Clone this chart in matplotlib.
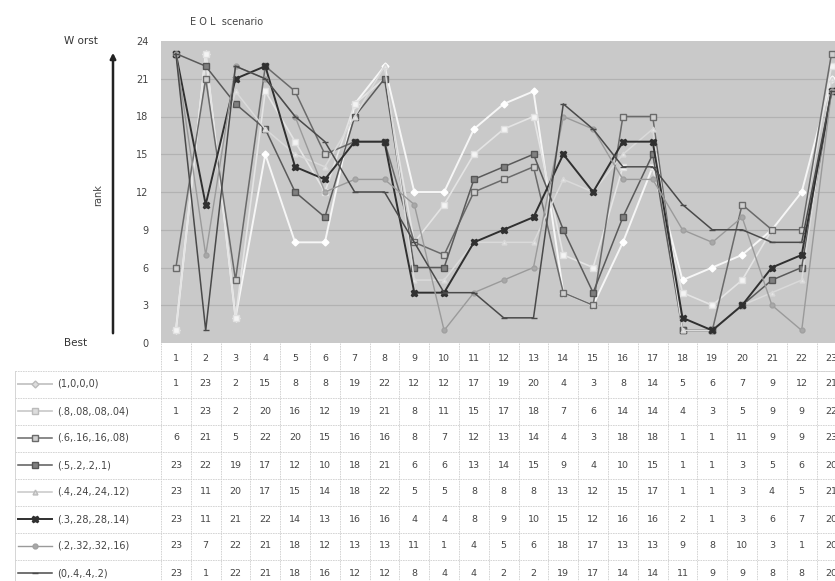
import matplotlib
matplotlib.use("Agg")
import matplotlib.pyplot as plt
import matplotlib.transforms as mtransforms
from matplotlib.lines import Line2D

plt.rcParams['font.family'] = ['Liberation Sans Narrow', 'DejaVu Sans']

alternatives = list(range(1, 24))
labels = ["(1,0,0,0)", "(.8,.08,.08,.04)", "(.6,.16,.16,.08)", "(.5,.2,.2,.1)",
          "(.4,.24,.24,.12)", "(.3,.28,.28,.14)", "(.2,.32,.32,.16)", "(0,.4,.4,.2)"]

s1 = [1, 23, 2, 15, 8, 8, 19, 22, 12, 12, 17, 19, 20, 4, 3, 8, 14, 5, 6, 7, 9, 12, 21]
s2 = [1, 23, 2, 20, 16, 12, 19, 21, 8, 11, 15, 17, 18, 7, 6, 14, 14, 4, 3, 5, 9, 9, 22]
s3 = [6, 21, 5, 22, 20, 15, 16, 16, 8, 7, 12, 13, 14, 4, 3, 18, 18, 1, 1, 11, 9, 9, 23]
s4 = [23, 22, 19, 17, 12, 10, 18, 21, 6, 6, 13, 14, 15, 9, 4, 10, 15, 1, 1, 3, 5, 6, 20]
s5 = [23, 11, 20, 17, 15, 14, 18, 22, 5, 5, 8, 8, 8, 13, 12, 15, 17, 1, 1, 3, 4, 5, 21]
s6 = [23, 11, 21, 22, 14, 13, 16, 16, 4, 4, 8, 9, 10, 15, 12, 16, 16, 2, 1, 3, 6, 7, 20]
s7 = [23, 7, 22, 21, 18, 12, 13, 13, 11, 1, 4, 5, 6, 18, 17, 13, 13, 9, 8, 10, 3, 1, 20]
s8 = [23, 1, 22, 21, 18, 16, 12, 12, 8, 4, 4, 2, 2, 19, 17, 14, 14, 11, 9, 9, 8, 8, 20]
series = [s1, s2, s3, s4, s5, s6, s7, s8]

yticks = [0, 3, 6, 9, 12, 15, 18, 21, 24]

styles = [
    dict(color="#f6f6f6", lw=1.4, marker="D", ms=3.5, mfc="#ffffff", mec="#ffffff"),
    dict(color="#e4e4e4", lw=1.2, marker="s", ms=4, mfc="#f4f4f4", mec="#e0e0e0"),
    dict(color="#6a6a6a", lw=1.1, marker="s", ms=4, mfc="#d0d0d0", mec="#6a6a6a"),
    dict(color="#5a5a5a", lw=1.1, marker="s", ms=4, mfc="#808080", mec="#555555"),
    dict(color="#dadada", lw=1.1, marker="^", ms=3.5, mfc="#e6e6e6", mec="#d8d8d8"),
    dict(color="#303030", lw=1.4, marker="X", ms=5, mfc="#303030", mec="#303030"),
    dict(color="#9a9a9a", lw=1.0, marker="o", ms=3.5, mfc="#a8a8a8", mec="#a0a0a0"),
    dict(color="#4a4a4a", lw=1.1, marker="_", ms=4, mfc="#4a4a4a", mec="#4a4a4a"),
]

W, H = 835, 581
fig = plt.figure(figsize=(W / 100, H / 100), dpi=100)

def fx(px):
    return px / W

def fy(py):
    return 1 - py / H

L, R, T, B = 161, 161 + 23 * 29.8, 41, 343
ax = fig.add_axes([fx(L), fy(B), (R - L) / W, (B - T) / H])
ax.set_facecolor("#c9c9c9")
ax.set_xlim(0.5, 23.5)
ax.set_ylim(0, 24)
for y in yticks[1:-1]:
    ax.axhline(y, color="#b2b2b2", lw=0.9, zorder=0)
for s, st in zip(series, styles):
    ax.plot(alternatives, s, zorder=3, clip_on=False, **st)
ax.set_xticks([])
ax.set_yticks(yticks)
ax.set_yticklabels([str(v) for v in yticks], fontsize=7, color="#444444")
ax.tick_params(axis="y", length=0, pad=9)
for sp in ax.spines.values():
    sp.set_visible(False)

# Titles and axis annotations
fig.text(fx(190), fy(22), "E O L  scenario", fontsize=7, color="#444444", va="center", ha="left")
fig.text(fx(64), fy(41), "W orst", fontsize=7.5, color="#333333", va="center", ha="left")
fig.text(fx(64), fy(343), "Best", fontsize=7.5, color="#333333", va="center", ha="left")
fig.text(fx(98), fy(195), "rank", fontsize=7, color="#444444", va="center", ha="center", rotation=90)
fig.add_artist(matplotlib.patches.FancyArrowPatch(
    (fx(113), fy(336)), (fx(113), fy(50)), transform=fig.transFigure,
    arrowstyle="-|>", mutation_scale=8, color="#222222", lw=1.8))

# Data table below chart
tr = mtransforms.blended_transform_factory(ax.transData, fig.transFigure)
hdr_top, hdr_bot = 345, 370.5
row_h = 27.0
nrows = len(series)
bottom = hdr_bot + row_h * nrows

grid_c = "#cfcfcf"
# vertical column separators
for i in range(0, 24):
    fig.add_artist(Line2D([i + 0.5, i + 0.5], [fy(B), fy(bottom)], transform=tr,
                          color=grid_c, lw=0.6, ls=(0, (2, 1))))
# left border of label column
fig.add_artist(Line2D([fx(15), fx(15)], [fy(hdr_bot), fy(bottom)], transform=fig.transFigure,
                      color=grid_c, lw=0.6))
# horizontal row separators
fig.add_artist(Line2D([0.5, 23.6], [fy(hdr_bot), fy(hdr_bot)], transform=tr, color=grid_c, lw=0.6, ls=(0, (2, 1))))
for r in range(nrows + 1):
    yy = hdr_bot + row_h * r
    fig.add_artist(Line2D([fx(15), 1.0], [fy(yy), fy(yy)], transform=fig.transFigure,
                          color=grid_c, lw=0.6, ls=(0, (2, 1))))

# header numbers
hdr_y = fy((hdr_top + hdr_bot) / 2 + 1)
for x in alternatives:
    fig.text(x, hdr_y, str(x), transform=tr, fontsize=6.8, color="#444444", ha="center", va="center")

# rows
for r, (s, lab, st) in enumerate(zip(series, labels, styles)):
    yc = hdr_bot + row_h * r + row_h / 2
    for x, v in zip(alternatives, s):
        fig.text(x, fy(yc), str(v), transform=tr, fontsize=6.8, color="#444444",
                 ha="center", va="center")
    lc = st["color"]
    if lc in ("#f6f6f6", "#e4e4e4", "#dadada"):
        lc = "#c8c8c8"
    mfc = st["mfc"] if st["mfc"] not in ("#ffffff", "#f4f4f4", "#e6e6e6") else "#dddddd"
    mec = st["mec"] if st["mec"] not in ("#ffffff", "#e0e0e0", "#d8d8d8") else "#bbbbbb"
    fig.add_artist(Line2D([fx(18), fx(52)], [fy(yc), fy(yc)], transform=fig.transFigure,
                          color=lc, lw=st["lw"]))
    fig.add_artist(Line2D([fx(35)], [fy(yc)], transform=fig.transFigure, marker=st["marker"],
                          ms=st["ms"], mfc=mfc, mec=mec, ls="none"))
    fig.text(fx(57), fy(yc), lab, fontsize=7, color="#444444", ha="left", va="center")

fig.savefig("out.png", dpi=100, facecolor="white")
